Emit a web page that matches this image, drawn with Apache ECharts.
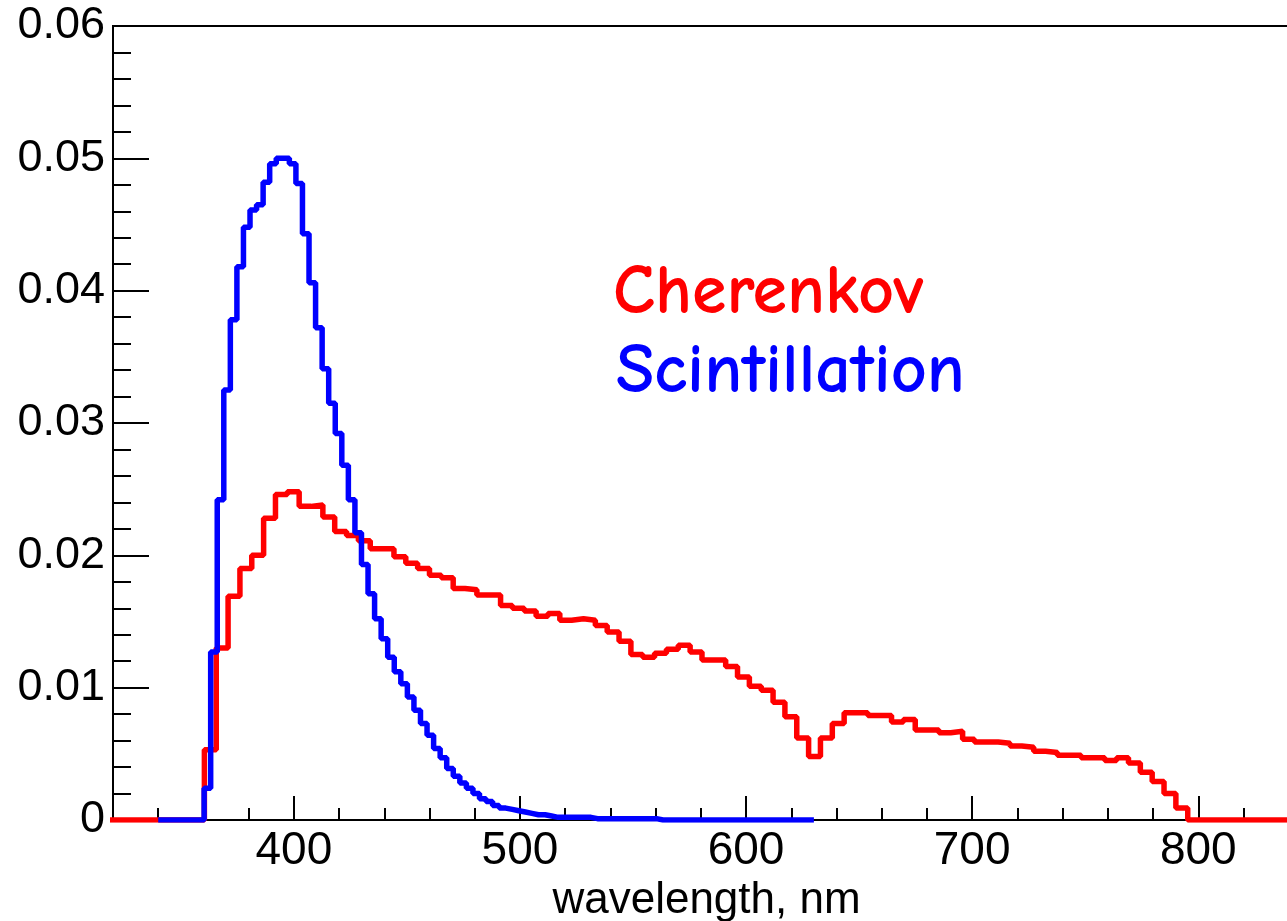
<!DOCTYPE html>
<html>
<head>
<meta charset="utf-8">
<script src="https://cdn.jsdelivr.net/npm/echarts@6/dist/echarts.min.js"></script>
<style>
  html, body { margin: 0; padding: 0; overflow: hidden; background: #fff; }
  #chart { width: 1340px; height: 921px; }
</style>
</head>
<body>
<div id="chart"></div>
<script>
// Wavelength axis tick labels (nm) and value axis range
const wavelengthTicks = [400, 500, 600, 700, 800];
const wavelengthMin = 320;
const wavelengthMax = 845;
const yMax = 0.06;

// Cherenkov spectrum: 100 bins, first bin edge and bin width in nm
const cherenkovStart = 318.5;
const cherenkovBinWidth = 5.24;
const cherenkov = [
  0, 0, 0, 0, 0, 0, 0, 0,
  0.0053, 0.0130, 0.0169, 0.0190, 0.0200, 0.0228, 0.0246, 0.0248, 0.0237, 0.0238,
  0.0229, 0.0218, 0.0215, 0.0211, 0.0205, 0.0205, 0.0199, 0.0194, 0.0190, 0.0185,
  0.0183, 0.0175, 0.0174, 0.0170, 0.0170, 0.0162, 0.0160, 0.0158, 0.0154, 0.0156,
  0.0151, 0.0152, 0.0151, 0.0147, 0.0142, 0.0135, 0.0125, 0.0123, 0.0126, 0.0129,
  0.0132, 0.0127, 0.0121, 0.0121, 0.0116, 0.0108, 0.0101, 0.0098, 0.0089, 0.0078,
  0.0062, 0.0048, 0.0062, 0.0073, 0.0081, 0.0081, 0.0079, 0.0079, 0.0074, 0.0076,
  0.0068, 0.0068, 0.0066, 0.0067, 0.0061, 0.0059, 0.0059, 0.0058, 0.0056, 0.0055,
  0.0052, 0.0051, 0.0049, 0.0049, 0.0047, 0.0047, 0.0045, 0.0047, 0.0043, 0.0036,
  0.0029, 0.0020, 0.0009,
  0, 0, 0, 0, 0, 0, 0, 0, 0
];

// Scintillation spectrum: 100 bins from 340 to 630 nm
const scintillationStart = 340;
const scintillationBinWidth = 2.9;
const scintillation = [
  0, 0, 0, 0, 0, 0, 0,
  0.0024, 0.0127, 0.0242, 0.0325, 0.0378, 0.0418, 0.0448, 0.0461, 0.0465, 0.0482,
  0.0496, 0.0500, 0.0500, 0.0496, 0.0481, 0.0443, 0.0406, 0.0372, 0.0341, 0.0315,
  0.0292, 0.0268, 0.0242, 0.0217, 0.0193, 0.0171, 0.0152, 0.0137, 0.0123, 0.0112,
  0.0103, 0.0093, 0.0083, 0.0073, 0.0064, 0.0054, 0.0047, 0.0039, 0.0033, 0.0028,
  0.0024, 0.0020, 0.0016, 0.0014, 0.0011, 0.0009, 0.0008, 0.0007, 0.0006, 0.0005,
  0.0004, 0.0004, 0.0003,
  0.0002, 0.0002, 0.0002, 0.0002, 0.0002, 0.0002,
  0.0001, 0.0001, 0.0001, 0.0001, 0.0001, 0.0001, 0.0001, 0.0001, 0.0001, 0.0001,
  0, 0, 0, 0, 0, 0, 0, 0, 0, 0, 0, 0,
  0, 0, 0, 0, 0, 0, 0, 0, 0, 0, 0, 0
];

// Turn bin contents into step-line points at the bin edges
function histogramPoints(start, width, values) {
  const pts = values.map((v, i) => [start + i * width, v]);
  pts.push([start + values.length * width, values[values.length - 1]]);
  return pts;
}

const axisFont = '"Liberation Sans", Arial, sans-serif';
const labelFont = '"Comic Sans MS", "Comic Neue", "Noto Sans", sans-serif';

const chart = echarts.init(document.getElementById('chart'), null, { renderer: 'canvas' });

chart.setOption({
  animation: false,
  backgroundColor: '#fff',
  grid: {
    left: 113, right: 40, top: 26, bottom: 101,
    outerBoundsMode: 'none',
    containLabel: false,
    show: true, borderColor: '#000', borderWidth: 2, backgroundColor: 'transparent'
  },
  xAxis: [
    {
      type: 'value',
      min: wavelengthMin,
      max: wavelengthMax,
      axisLine: { show: true, lineStyle: { color: '#000', width: 2 } },
      axisTick: {
        show: true, inside: true, length: 24,
        customValues: wavelengthTicks,
        lineStyle: { color: '#000', width: 2 }
      },
      axisLabel: {
        customValues: wavelengthTicks,
        color: '#000', fontSize: 46, fontFamily: axisFont, margin: 8
      },
      splitLine: { show: false },
      name: 'wavelength, nm',
      nameLocation: 'middle',
      nameGap: 54,
      nameTextStyle: { color: '#000', fontSize: 44, fontFamily: axisFont }
    },
    {
      type: 'value',
      min: wavelengthMin,
      max: wavelengthMax,
      interval: 20,
      position: 'bottom',
      axisLine: { show: false },
      axisTick: { show: true, inside: true, length: 12, lineStyle: { color: '#000', width: 2 } },
      axisLabel: { show: false },
      splitLine: { show: false }
    }
  ],
  yAxis: {
    type: 'value',
    min: 0,
    max: yMax,
    interval: 0.01,
    axisLine: { show: true, lineStyle: { color: '#000', width: 2 } },
    axisTick: { show: true, inside: true, length: 36, lineStyle: { color: '#000', width: 2 } },
    minorTick: { show: true, splitNumber: 5, length: 18, lineStyle: { color: '#000', width: 2 } },
    axisLabel: {
      color: '#000', fontSize: 45, fontFamily: axisFont, margin: 8,
      formatter: v => (v === 0 ? '0' : v.toFixed(2))
    },
    splitLine: { show: false }
  },
  series: [
    {
      name: 'Cherenkov',
      type: 'line',
      step: 'end',
      showSymbol: false,
      data: histogramPoints(cherenkovStart, cherenkovBinWidth, cherenkov),
      lineStyle: { color: '#ff0000', width: 5.5 },
      clip: true,
      z: 2
    },
    {
      name: 'Scintillation',
      type: 'line',
      step: 'end',
      showSymbol: false,
      data: histogramPoints(scintillationStart, scintillationBinWidth, scintillation),
      lineStyle: { color: '#0000ff', width: 5.5 },
      clip: true,
      z: 3
    }
  ],
  graphic: [
    {
      type: 'text', left: 613, top: 258,
      style: { text: 'Cherenkov', fill: '#ff0000', fontSize: 70, fontWeight: 'bold', fontFamily: labelFont }
    },
    {
      type: 'text', left: 616, top: 337,
      style: { text: 'Scintillation', fill: '#0000ff', fontSize: 70, fontWeight: 'bold', fontFamily: labelFont }
    }
  ]
});
</script>
</body>
</html>
